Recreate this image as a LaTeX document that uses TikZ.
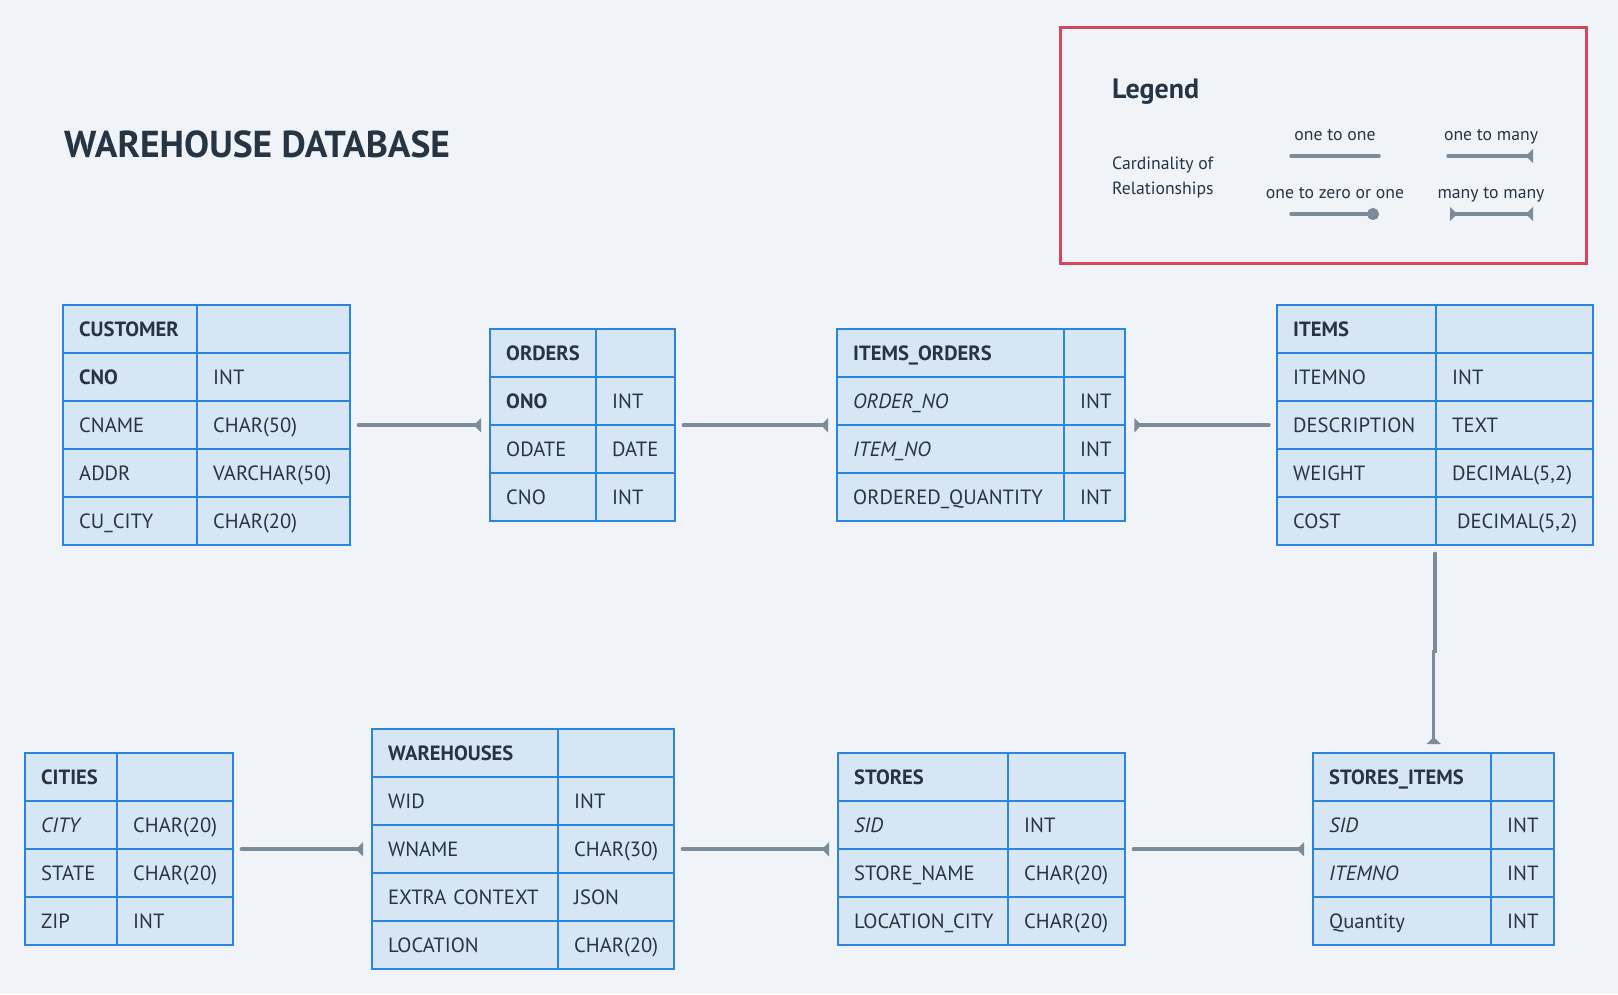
\documentclass[tikz,border=0pt]{standalone}
\usepackage{fontspec}
\setmainfont{PT Sans}
\usetikzlibrary{matrix,arrows.meta}

\definecolor{bgpaper}{RGB}{240,244,248}
\definecolor{cellfill}{RGB}{214,230,245}
\definecolor{cellline}{RGB}{43,133,221}
\definecolor{ink}{RGB}{38,52,68}
\definecolor{linkgray}{RGB}{124,139,154}
\definecolor{legendred}{RGB}{214,69,90}

\begin{document}
\begin{tikzpicture}[x=1pt, y=-1pt,
	cell/.style={draw=cellline, fill=cellfill, line width=2pt, minimum height=48pt,
		inner xsep=16pt, inner ysep=0pt, align=left, text=ink,
		text height=14pt, text depth=0pt, font=\fontsize{20.6}{24}\selectfont},
	erd/.style 2 args={matrix of nodes, nodes in empty cells, inner sep=0pt,
		row sep=-2pt, column sep=-2pt, anchor=north west, nodes={cell},
		column 1/.style={nodes={text width=#1}},
		column 2/.style={nodes={text width=#2}},
		row 1/.style={nodes={font=\fontsize{20.6}{24}\selectfont\bfseries}}},
	pk/.style={font=\fontsize{20.6}{24}\selectfont\bfseries},
	fk/.style={font=\fontsize{20.6}{24}\selectfont\itshape},
	rel/.style={draw=linkgray, line width=3.5pt, line cap=round,
		shorten <=7pt, shorten >=8pt, -{Triangle[reversed,length=7pt,width=14pt]}},
	sample/.style={draw=linkgray, line width=3.5pt, line cap=round},
	small/.style={text=ink, font=\fontsize{17.7}{20}\selectfont}]
	% 1. 背景
	\useasboundingbox (0,0) rectangle (1618,994);
	\fill[bgpaper] (0,0) rectangle (1618,994);
	
	% 2. 标题
	\node[anchor=base west, text=ink, inner sep=0pt, font=\fontsize{37.5}{42}\selectfont\bfseries] (title) at (64,157) {WAREHOUSE DATABASE};
	
	% 3. 图例
	\draw[legendred, line width=3pt] (1060,27) rectangle (1586,263);
	\node[anchor=base west, text=ink, inner sep=0pt, font=\fontsize{28}{32}\selectfont\bfseries] (legend) at (1112,98) {Legend};
	\node[small, anchor=base west, inner sep=0pt] (card) at (1112,169) {Cardinality of};
	\node[small, anchor=base west, inner sep=0pt] (relship) at (1112,194) {Relationships};
	\node[small, anchor=base, inner sep=0pt] (oneone) at (1335,140) {one to one};
	\node[small, anchor=base, inner sep=0pt] (onemany) at (1491,140) {one to many};
	\node[small, anchor=base, inner sep=0pt] (onezero) at (1335,198) {one to zero or one};
	\node[small, anchor=base, inner sep=0pt] (manymany) at (1491,198) {many to many};
	\coordinate (oo1) at (1291,156);  \coordinate (oo2) at (1379,156);
	\coordinate (om1) at (1448,156);  \coordinate (om2) at (1533,156);
	\coordinate (oz1) at (1291,214);  \coordinate (oz2) at (1379,214);
	\coordinate (mm1) at (1450,214);  \coordinate (mm2) at (1533,214);
	\draw[sample] (oo1) -- (oo2);
	\draw[sample, -{Triangle[reversed,length=7pt,width=14pt]}] (om1) -- (om2);
	\draw[sample, -{Circle[length=12pt]}] (oz1) -- (oz2);
	\draw[sample, {Triangle[reversed,length=7pt,width=14pt]}-{Triangle[reversed,length=7pt,width=14pt]}] (mm1) -- (mm2);
	
	% 4. 上排表
	\matrix (customer) [erd={102pt}{121pt}] at (62,304) {
		CUSTOMER & \\
		|[pk]| CNO & INT \\
		CNAME & CHAR(50) \\
		ADDR & VARCHAR(50) \\
		CU\_CITY & CHAR(20) \\
	};
	\matrix (orders) [erd={74pt}{47pt}] at (489,328) {
		ORDERS & \\
		|[pk]| ONO & INT \\
		ODATE & DATE \\
		CNO & INT \\
	};
	\matrix (itemsorders) [erd={195pt}{29pt}] at (836,328) {
		ITEMS\_ORDERS & \\
		|[fk]| ORDER\_NO & INT \\
		|[fk]| ITEM\_NO & INT \\
		ORDERED\_QUANTITY & INT \\
	};
	\matrix (items) [erd={127pt}{125pt}] at (1276,304) {
		ITEMS & \\
		ITEMNO & INT \\
		DESCRIPTION & TEXT \\
		WEIGHT & DECIMAL(5,2) \\
		COST & \hspace*{5pt}DECIMAL(5,2) \\
	};
	
	% 5. 下排表
	\matrix (cities) [erd={60pt}{84pt}] at (24,752) {
		CITIES & \\
		|[fk]| CITY & CHAR(20) \\
		STATE & CHAR(20) \\
		ZIP & INT \\
	};
	\matrix (warehouses) [erd={154pt}{84pt}] at (371,728) {
		WAREHOUSES & \\
		WID & INT \\
		WNAME & CHAR(30) \\
		EXTRA CONTEXT & JSON \\
		LOCATION & CHAR(20) \\
	};
	\matrix (stores) [erd={138pt}{85pt}] at (837,752) {
		STORES & \\
		|[fk]| SID & INT \\
		STORE\_NAME & CHAR(20) \\
		LOCATION\_CITY & CHAR(20) \\
	};
	\matrix (storesitems) [erd={146pt}{31pt}] at (1312,752) {
		STORES\_ITEMS & \\
		|[fk]| SID & INT \\
		|[fk]| ITEMNO & INT \\
		Quantity & INT \\
	};
	
	% 6. 关系连线
	\draw[rel] (customer.east) -- (orders.west);
	\draw[rel] (orders.east) -- (itemsorders.west);
	\draw[rel] (items.west) -- (itemsorders.east);
	\draw[rel] (items.south) -- ++(0,105) -| (storesitems.north);
	\draw[rel] (cities.east) -- (warehouses.west);
	\draw[rel] (warehouses.east) -- (stores.west);
	\draw[rel] (stores.east) -- (storesitems.west);
\end{tikzpicture}
\end{document}
